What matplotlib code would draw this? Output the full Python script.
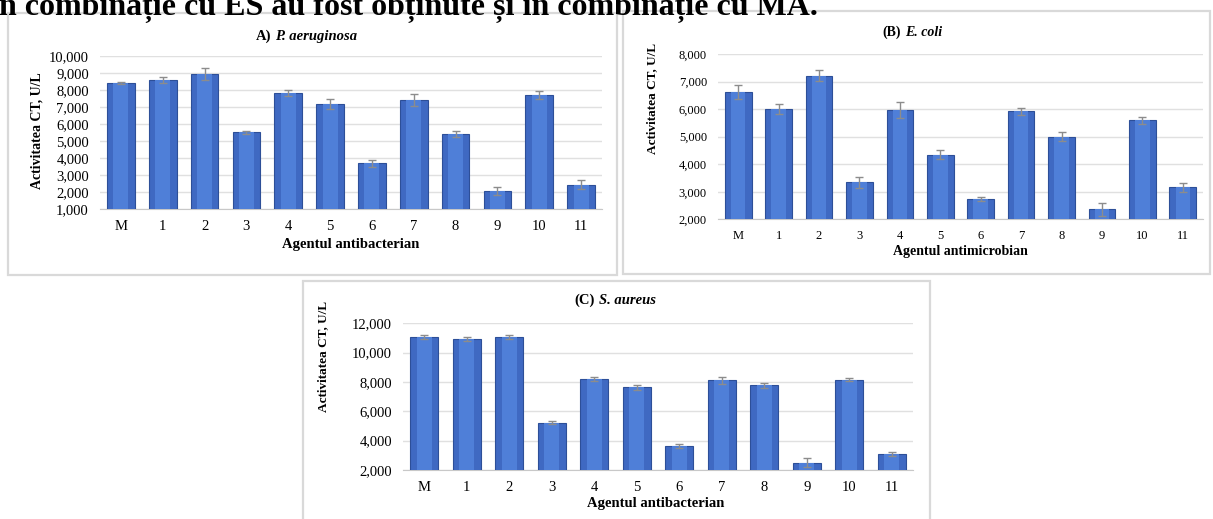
import numpy as np
import matplotlib.pyplot as plt
from matplotlib.patches import Rectangle
from matplotlib.ticker import FuncFormatter

W, H = 1213, 519

cats = ['M', '1', '2', '3', '4', '5', '6', '7', '8', '9', '10', '11']

pa_vals = [8380, 8560, 8950, 5510, 7830, 7170, 3690, 7400, 5390, 2070, 7700, 2440]
pa_err = [50, 170, 350, 70, 180, 310, 190, 330, 175, 215, 235, 270]

ec_vals = [6620, 6000, 7210, 3340, 5970, 4350, 2740, 5920, 5000, 2360, 5590, 3160]
ec_err = [250, 170, 195, 205, 300, 157, 85, 133, 170, 240, 133, 157]

sa_vals = [11070, 10930, 11070, 5230, 8200, 7640, 3610, 8110, 7770, 2500, 8160, 3090]
sa_err = [110, 110, 140, 110, 140, 160, 140, 250, 180, 300, 110, 110]

plt.rcParams['font.family'] = ['Liberation Serif', 'DejaVu Serif']

fig = plt.figure(figsize=(W / 100, H / 100), dpi=100)
fig.patch.set_facecolor('white')


def fx(x):
    return x / W


def fy(y):
    return 1 - y / H


def px_axes(x0, y0, x1, y1):
    return fig.add_axes([fx(x0), fy(y1), (x1 - x0) / W, (y1 - y0) / H])


def frame(x0, y0, x1, y1):
    fig.add_artist(Rectangle((fx(x0), fy(y1)), (x1 - x0) / W, (y1 - y0) / H,
                             transform=fig.transFigure, fill=False,
                             edgecolor='#d9d9d9', linewidth=1.6))


def panel(ax, vals, errs, ylo, yhi, step, fs):
    x = np.arange(len(cats))
    ax.bar(x, vals, width=0.66, color='#3f69c2', edgecolor='#2d4f98',
           linewidth=0.8, zorder=3)
    ax.bar(x, vals, width=0.36, color='#4f7fd8', linewidth=0, zorder=4)
    ax.errorbar(x, vals, yerr=errs, fmt='none', ecolor='#8c8c8c',
                elinewidth=1, capsize=3, capthick=1, zorder=5)
    ax.set_xlim(-0.5, len(cats) - 0.5)
    ax.set_ylim(ylo, yhi)
    ax.set_yticks(np.arange(ylo, yhi + 1, step))
    ax.yaxis.set_major_formatter(FuncFormatter(lambda v, p: f'{v:,.0f}'))
    ax.set_xticks(x)
    ax.set_xticklabels(cats)
    ax.tick_params(length=0, labelsize=fs, pad=8)
    ax.grid(axis='y', color='#e0e0e0', linewidth=1, zorder=0)
    for s in ['top', 'right', 'left']:
        ax.spines[s].set_visible(False)
    ax.spines['bottom'].set_color('#c8c8c8')
    ax.set_facecolor('white')


# top line of text (its top is cut off in the source page)
fig.text(fx(-9), fy(15), 'în combinație cu ES au fost obținute și în combinație cu MA.',
         fontsize=23, fontweight='bold', ha='left', va='baseline')

# frames
frame(8, 13, 617, 275)
frame(623, 11, 1210, 274)
frame(303, 281, 930, 522)

# panel A
axA = px_axes(100, 55.7, 602, 209.3)
panel(axA, pa_vals, pa_err, 1000, 10000, 1000, 10.5)
fig.text(fx(271), fy(40), 'A)', fontsize=10.5, fontweight='bold', ha='right', va='baseline')
fig.text(fx(275), fy(40), 'P. aeruginosa', fontsize=10.5, fontweight='bold',
         style='italic', ha='left', va='baseline')
fig.text(fx(37), fy(131), 'Activitatea CT, U/L', fontsize=10, fontweight='bold',
         rotation=90, ha='center', va='center')
fig.text(fx(351), fy(244), 'Agentul antibacterian', fontsize=10.5, fontweight='bold',
         ha='center', va='center')

# panel B
axB = px_axes(718, 54, 1203, 219.3)
panel(axB, ec_vals, ec_err, 2000, 8000, 1000, 9)
fig.text(fx(901), fy(36), '(B)', fontsize=10, fontweight='bold', ha='right', va='baseline')
fig.text(fx(905), fy(36), 'E. coli', fontsize=10, fontweight='bold',
         style='italic', ha='left', va='baseline')
fig.text(fx(652), fy(98), 'Activitatea CT, U/L', fontsize=9.5, fontweight='bold',
         rotation=90, ha='center', va='center')
fig.text(fx(960), fy(251), 'Agentul antimicrobian', fontsize=10, fontweight='bold',
         ha='center', va='center')

# panel C
axC = px_axes(403, 323.3, 913, 470)
panel(axC, sa_vals, sa_err, 2000, 12000, 2000, 10.5)
fig.text(fx(595), fy(304), '(C)', fontsize=10.5, fontweight='bold', ha='right', va='baseline')
fig.text(fx(599), fy(304), 'S. aureus', fontsize=10.5, fontweight='bold',
         style='italic', ha='left', va='baseline')
fig.text(fx(323), fy(356), 'Activitatea CT, U/L', fontsize=9.5, fontweight='bold',
         rotation=90, ha='center', va='center')
fig.text(fx(656), fy(504), 'Agentul antibacterian', fontsize=10.5, fontweight='bold',
         ha='center', va='center')

fig.savefig('out.png', dpi=100)
